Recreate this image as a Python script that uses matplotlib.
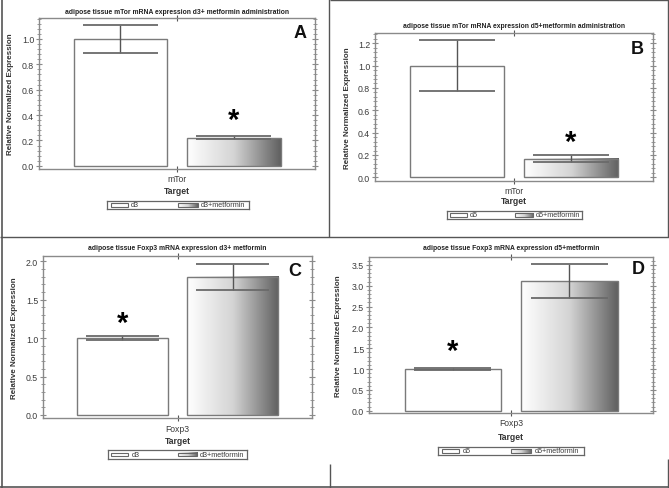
import numpy as np
import matplotlib
matplotlib.use("Agg")
import matplotlib.pyplot as plt
from matplotlib.colors import LinearSegmentedColormap
from matplotlib.patches import Rectangle
from matplotlib.ticker import MultipleLocator, AutoMinorLocator

plt.rcParams['font.family'] = ['Liberation Sans', 'DejaVu Sans']

W, H = 669, 489

panel_letters = ["A", "B", "C", "D"]
titles = [
    "adipose tissue mTor mRNA expression d3+ metformin administration",
    "adipose tissue mTor mRNA expression d5+metformin administration",
    "adipose tissue Foxp3 mRNA expression d3+ metformin",
    "adipose tissue Foxp3 mRNA expression d5+metformin",
]
targets = ["mTor", "mTor", "Foxp3", "Foxp3"]
groups = [["d3", "d3+metformin"], ["d5", "d5+metformin"],
          ["d3", "d3+metformin"], ["d5", "d5+metformin"]]

values_A = [1.0, 0.22]
low_A = [0.89, 0.21]
high_A = [1.11, 0.235]
values_B = [1.0, 0.165]
low_B = [0.775, 0.14]
high_B = [1.225, 0.20]
values_C = [1.0, 1.80]
low_C = [0.97, 1.63]
high_C = [1.03, 1.97]
values_D = [1.0, 3.12]
low_D = [0.97, 2.71]
high_D = [1.03, 3.53]

star_bar = [1, 1, 0, 0]
star_y = [0.36, 0.32, 1.2, 1.43]

yticks_step = [0.2, 0.2, 0.5, 0.5]
ytick_max = [1.0, 1.2, 2.0, 3.5]
ylims = [(-0.025, 1.165), (-0.033, 1.292), (-0.04, 2.07), (-0.055, 3.69)]

values = [values_A, values_B, values_C, values_D]
lows = [low_A, low_B, low_C, low_D]
highs = [high_A, high_B, high_C, high_D]

# layout (pixels)
axes_px = [(39, 19, 315, 170), (375, 34, 653, 182), (43, 257, 312, 419), (369, 258, 653, 414)]
title_y = [12, 26, 249, 249]
letter_xy = [(300, 33), (637, 50), (295, 272), (638, 270)]
ylabel_x = [11, 348, 15, 338]
xtick_y = [180, 191, 430, 424]
target_y = [192, 202, 442, 438]
legend_px = [(107, 202, 249, 210), (447, 212, 582, 220), (108, 451, 247, 460), (438, 448, 584, 456)]

fig = plt.figure(figsize=(W / 100, H / 100), dpi=100)

def fx(x):
    return x / W

def fy(y):
    return 1 - y / H

def add_px_axes(l, t, r, b):
    return fig.add_axes([fx(l), fy(b), (r - l) / W, (b - t) / H])

grad_cmap = LinearSegmentedColormap.from_list("g", ["#ffffff", "#d4d4d4", "#606060"])
grad = np.linspace(0, 1, 256).reshape(1, -1)

positions = [-0.41, 0.41]
width = 0.68
edge = "#7a7a7a"
spine_c = "#8a8a8a"
text_c = "#3a3a3a"

for i in range(4):
    l, t, r, b = axes_px[i]
    ax = add_px_axes(l, t, r, b)
    vals = values[i]
    for j, (x, v) in enumerate(zip(positions, vals)):
        if j == 0:
            ax.add_patch(Rectangle((x - width / 2, 0), width, v, facecolor="white",
                                   edgecolor=edge, lw=1.0, zorder=2))
        else:
            ax.imshow(grad, cmap=grad_cmap, aspect="auto",
                      extent=[x - width / 2, x + width / 2, 0, v], zorder=2)
            ax.add_patch(Rectangle((x - width / 2, 0), width, v, facecolor="none",
                                   edgecolor=edge, lw=1.0, zorder=3))
        lo, hi = lows[i][j], highs[i][j]
        cw = width * 0.4
        ax.vlines(x, lo, hi, color="#555555", lw=1.0, zorder=4)
        ax.hlines([lo, hi], x - cw, x + cw, color="#6a6a6a", lw=1.3, zorder=4)
    sx = positions[star_bar[i]]
    ax.text(sx, star_y[i], "*", ha="center", va="center", fontsize=21,
            fontweight="bold", color="black", zorder=5)
    ax.set_xlim(-1, 1)
    ax.set_ylim(*ylims[i])
    ax.set_xticks([0])
    ax.set_xticklabels([])
    ax.yaxis.set_minor_locator(AutoMinorLocator(5))
    ticks = np.arange(0, ytick_max[i] + 1e-9, yticks_step[i])
    ax.set_yticks(ticks)
    ax.set_yticklabels([f"{v:.1f}" for v in ticks])
    ax.tick_params(axis="y", which="both", left=True, right=True, direction="inout",
                   colors=spine_c, labelcolor=text_c, labelsize=6.3, pad=1.5)
    ax.tick_params(axis="y", which="major", length=4, width=0.8)
    ax.tick_params(axis="y", which="minor", length=2.5, width=0.6)
    ax.tick_params(axis="x", which="both", top=True, bottom=True, direction="inout",
                   length=5, width=0.8, colors="#555555")
    for s in ax.spines.values():
        s.set_color(spine_c)
        s.set_linewidth(1.0)

    # texts
    cx = (l + r) / 2
    fig.text(fx(cx), fy(title_y[i]), titles[i], ha="center", va="center",
             fontsize=4.9, fontweight="bold", color="#222222")
    fig.text(fx(letter_xy[i][0]), fy(letter_xy[i][1]), panel_letters[i], ha="center",
             va="center", fontsize=13, fontweight="bold", color="#111111")
    fig.text(fx(ylabel_x[i]), fy((t + b) / 2), "Relative Normalized Expression",
             rotation=90, ha="center", va="center", fontsize=5.8, fontweight="bold",
             color="#333333")
    fig.text(fx(cx), fy(xtick_y[i]), targets[i], ha="center", va="center",
             fontsize=6.2, color=text_c)
    fig.text(fx(cx), fy(target_y[i]), "Target", ha="center", va="center",
             fontsize=6.2, fontweight="bold", color="#333333")

    # legend
    ll, lt, lr, lb = legend_px[i]
    lax = add_px_axes(ll, lt, lr, lb)
    lax.set_xticks([])
    lax.set_yticks([])
    for s in lax.spines.values():
        s.set_color("#666666")
        s.set_linewidth(0.9)
    lax.add_patch(Rectangle((0.025, 0.28), 0.12, 0.44, facecolor="white",
                            edgecolor="#666666", lw=0.8))
    lax.text(0.17, 0.5, groups[i][0], ha="left", va="center", fontsize=5.2, color=text_c)
    lax.imshow(grad, cmap=grad_cmap, aspect="auto", extent=[0.5, 0.64, 0.28, 0.72])
    lax.add_patch(Rectangle((0.5, 0.28), 0.14, 0.44, facecolor="none",
                            edgecolor="#666666", lw=0.8))
    lax.text(0.66, 0.5, groups[i][1], ha="left", va="center", fontsize=5.2, color=text_c)
    lax.set_xlim(0, 1)
    lax.set_ylim(0, 1)

# panel frame lines
frame = fig.add_axes([0, 0, 1, 1], zorder=-1)
frame.set_xlim(0, W)
frame.set_ylim(H, 0)
frame.axis("off")
fc = "#555555"
frame.vlines(1.5, 0, H, color=fc, lw=1.2)
frame.hlines(487.5, 0, 669, color=fc, lw=1.2)
frame.hlines(238, 0, 669, color=fc, lw=1.0)
frame.vlines(329, 0, 238, color=fc, lw=1.0)
frame.vlines(330, 465, 489, color=fc, lw=1.0)
frame.hlines(1, 330, 669, color=fc, lw=1.0)
frame.vlines(667.5, 0, 238, color=fc, lw=1.0)
frame.vlines(667.5, 460, 489, color=fc, lw=1.0)

fig.savefig("out.png", dpi=100)
